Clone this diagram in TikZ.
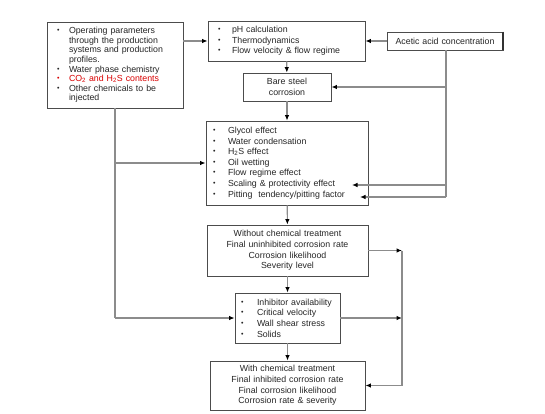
\documentclass[tikz,border=0pt]{standalone}
\usepackage{fontspec}
\setmainfont{Liberation Sans}
\usetikzlibrary{arrows.meta,positioning}

\newcommand{\itm}[2][12pt]{\makebox[#1][l]{\raisebox{.1em}{\fontsize{7}{7}\selectfont\textbullet}}#2}

\begin{document}
\begin{tikzpicture}[x=1pt, y=-1pt,
    box/.style={rectangle, draw=black!70, line width=0.8pt, fill=white, inner ysep=0pt, text=black!85, font=\fontsize{8.8}{10.6}\selectfont},
    listbox/.style={box, align=left},
    midbox/.style={box, align=center, inner xsep=4pt},
    arrow/.style={-{Latex[length=5.5pt, width=4.5pt, black]}, draw=black!45, line width=1.1pt},
    line/.style={draw=black!45, line width=1.1pt}
]
    \useasboundingbox (0,0) rectangle (545,414);

    % Eingangsdaten
    \node[listbox, inner xsep=10pt, text width=116pt, minimum height=86pt, font=\fontsize{8.8}{9.6}\selectfont] (params) at (115,65)
        {\itm{Operating parameters}\\\hspace*{12pt}through the production\\\hspace*{12pt}systems and production\\\hspace*{12pt}profiles.\\
         \itm{Water phase chemistry}\\{\color{red!85!black}\itm{CO\textsubscript{2} and H\textsubscript{2}S contents}}\\
         \itm{Other chemicals to be}\\\hspace*{12pt}injected};

    % pH und Thermodynamik
    \node[listbox, inner xsep=10pt, text width=137pt, minimum height=40pt] (ph) at (286.5,41)
        {\itm[14pt]{pH calculation}\\\itm[14pt]{Thermodynamics}\\\itm[14pt]{Flow velocity \& flow regime}};

    % Essigsaeure
    \node[midbox, text width=108pt, minimum height=18pt] (acetic) at (445,41) {Acetic acid concentration};
    \draw[black!80, line width=2pt] (acetic.north east) -- (acetic.south east);

    % blanker Stahl
    \node[midbox, text width=80pt, minimum height=28pt] (bare) at (287,87) {Bare steel\\corrosion};

    % Einflussfaktoren
    \node[listbox, inner xsep=7pt, text width=148pt, minimum height=84pt] (factors) at (287,163)
        {\itm[15pt]{Glycol effect}\\\itm[15pt]{Water condensation}\\\itm[15pt]{H\textsubscript{2}S effect}\\\itm[15pt]{Oil wetting}\\
         \itm[15pt]{Flow regime effect}\\\itm[15pt]{Scaling \& protectivity effect}\\\itm[15pt]{Pitting\ \ tendency/pitting factor}};

    % ohne Behandlung
    \node[midbox, text width=153pt, minimum height=51pt] (without) at (287.5,250.5)
        {Without chemical treatment\\Final uninhibited corrosion rate\\Corrosion likelihood\\Severity level};

    % Inhibitor
    \node[listbox, inner xsep=6pt, text width=93pt, minimum height=50pt] (inhib) at (287.5,318)
        {\itm[16pt]{Inhibitor availability}\\\itm[16pt]{Critical velocity}\\\itm[16pt]{Wall shear stress}\\\itm[16pt]{Solids}};

    % mit Behandlung
    \node[midbox, text width=147pt, minimum height=49pt] (with) at (287.5,385.5)
        {With chemical treatment\\Final inhibited corrosion rate\\Final corrosion likelihood\\Corrosion rate \& severity};

    % Hilfspunkte
    \coordinate (lbranch) at (115,163);
    \coordinate (lcorner) at (115,318);
    \coordinate (abranch) at (446,87);
    \coordinate (amid) at (446,185);
    \coordinate (acorner) at (446,197);
    \coordinate (scalend) at (352,185);
    \coordinate (pitend) at (360,197);
    \coordinate (rtop) at (402,250.5);
    \coordinate (rmid) at (402,318);
    \coordinate (rbot) at (402,385.5);

    % Pfeile - senkrecht
    \draw[arrow] (ph) -- (bare);
    \draw[arrow] (bare) -- (factors);
    \draw[arrow] (factors) -- (without);
    \draw[arrow] (without) -- (inhib);
    \draw[arrow] (inhib) -- (with);

    % Pfeile - links
    \draw[arrow] (params.east |- ph.west) -- (ph.west);
    \draw[line] (params.south) -- (lcorner);
    \draw[arrow] (lcorner) -- (inhib.west);
    \draw[arrow] (lbranch) -- (factors.west);

    % Pfeile - Essigsaeure
    \draw[arrow] (acetic.west) -- (ph.east);
    \draw[line] (acetic.south -| abranch) -- (acorner);
    \draw[arrow] (abranch) -- (bare.east);
    \draw[arrow] (amid) -- (scalend);
    \draw[arrow] (acorner) -- (pitend);

    % Pfeile - rechts
    \draw[arrow] (without.east) -- (rtop);
    \draw[arrow] (inhib.east) -- (rmid);
    \draw[line] (rtop) -- (rbot);
    \draw[arrow] (rbot) -- (with.east);
\end{tikzpicture}
\end{document}
